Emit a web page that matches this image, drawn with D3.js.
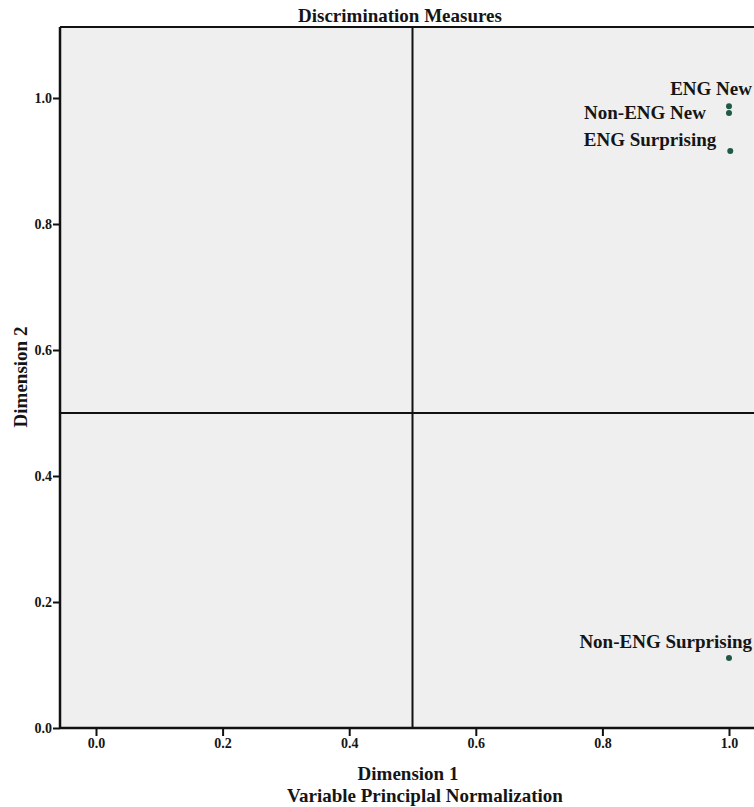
<!DOCTYPE html>
<html>
<head>
<meta charset="utf-8">
<script src="https://cdn.jsdelivr.net/npm/d3@7"></script>
<style>
  html, body { margin: 0; padding: 0; background: #fff; }
  svg { display: block; }
  text { font-family: "Liberation Serif", "Times New Roman", serif; font-weight: bold; fill: #151515; }
</style>
</head>
<body>
<svg id="chart" width="754" height="807"></svg>
<script>
// ---- Data ----
const labels = ["ENG New", "Non-ENG New", "ENG Surprising", "Non-ENG Surprising"];
const dim1 = [1.000, 1.000, 1.002, 1.000];
const dim2 = [0.987, 0.976, 0.916, 0.111];
const xTicks = [0.0, 0.2, 0.4, 0.6, 0.8, 1.0];
const yTicks = [0.0, 0.2, 0.4, 0.6, 0.8, 1.0];
const title = "Discrimination Measures";
const xTitle = ["Dimension 1", "Variable Principlal Normalization"];
const yTitle = "Dimension 2";

// label offsets (style)
const labelOffsets = [
  { dx: 23, dy: -11 },
  { dx: -23, dy: 6 },
  { dx: -14, dy: -5 },
  { dx: 23, dy: -10 }
];

const svg = d3.select("#chart");
const pLeft = 60, pTop = 27, pBottom = 728, pRight = 760;

const x = d3.scaleLinear().domain([0, 1]).range([96, 729]);
const y = d3.scaleLinear().domain([0, 1]).range([728, 98]);

// plot background
svg.append("rect")
  .attr("x", pLeft).attr("y", pTop)
  .attr("width", pRight - pLeft).attr("height", pBottom - pTop)
  .attr("fill", "#efefef");

// reference lines at 0.5
svg.append("line")
  .attr("x1", x(0.5)).attr("x2", x(0.5))
  .attr("y1", pTop).attr("y2", pBottom)
  .attr("stroke", "#111").attr("stroke-width", 2);
svg.append("line")
  .attr("x1", pLeft).attr("x2", pRight)
  .attr("y1", y(0.5)).attr("y2", y(0.5))
  .attr("stroke", "#111").attr("stroke-width", 2);

// top border
svg.append("line")
  .attr("x1", pLeft).attr("x2", pRight)
  .attr("y1", pTop).attr("y2", pTop)
  .attr("stroke", "#111").attr("stroke-width", 2);

// axes
const xAxis = d3.axisBottom(x).tickValues(xTicks).tickFormat(d3.format(".1f")).tickSize(8).tickSizeOuter(0);
const gx = svg.append("g").attr("transform", `translate(0,${pBottom})`).call(xAxis);
gx.select(".domain").remove();
gx.selectAll(".tick line").attr("stroke", "#111").attr("stroke-width", 2);
gx.selectAll(".tick text").attr("font-size", 14).attr("y", 20).attr("dy", 0)
  .attr("font-family", "Liberation Serif").attr("font-weight", "bold").attr("fill", "#222");

const yAxis = d3.axisLeft(y).tickValues(yTicks).tickFormat(d3.format(".1f")).tickSize(7).tickSizeOuter(0);
const gy = svg.append("g").attr("transform", `translate(${pLeft},0)`).call(yAxis);
gy.select(".domain").remove();
gy.selectAll(".tick line").attr("stroke", "#111").attr("stroke-width", 2);
gy.selectAll(".tick text").attr("font-size", 14).attr("x", -8)
  .attr("font-family", "Liberation Serif").attr("font-weight", "bold").attr("fill", "#222");

// axis lines
svg.append("line")
  .attr("x1", pLeft).attr("x2", pRight)
  .attr("y1", pBottom).attr("y2", pBottom)
  .attr("stroke", "#111").attr("stroke-width", 2.5);
svg.append("line")
  .attr("x1", pLeft).attr("x2", pLeft)
  .attr("y1", pTop).attr("y2", pBottom + 1)
  .attr("stroke", "#111").attr("stroke-width", 2.5);

// points
const data = labels.map((l, i) => ({ label: l, x: dim1[i], y: dim2[i], off: labelOffsets[i] }));
svg.selectAll("circle.pt").data(data).enter().append("circle")
  .attr("class", "pt")
  .attr("cx", d => x(d.x)).attr("cy", d => y(d.y))
  .attr("r", 3).attr("fill", "#1e5a45");

svg.selectAll("text.lbl").data(data).enter().append("text")
  .attr("class", "lbl")
  .attr("x", d => x(d.x) + d.off.dx)
  .attr("y", d => y(d.y) + d.off.dy)
  .attr("text-anchor", "end")
  .attr("font-size", 19)
  .text(d => d.label);

// titles
svg.append("text").attr("x", 400).attr("y", 22).attr("text-anchor", "middle")
  .attr("font-size", 19).text(title);

svg.append("text").attr("x", 408).attr("y", 780).attr("text-anchor", "middle")
  .attr("font-size", 19).text(xTitle[0]);
svg.append("text").attr("x", 287).attr("y", 802).attr("text-anchor", "start")
  .attr("font-size", 19).text(xTitle[1]);

svg.append("text")
  .attr("transform", `translate(27,377) rotate(-90)`)
  .attr("text-anchor", "middle")
  .attr("font-size", 19).text(yTitle);
</script>
</body>
</html>
